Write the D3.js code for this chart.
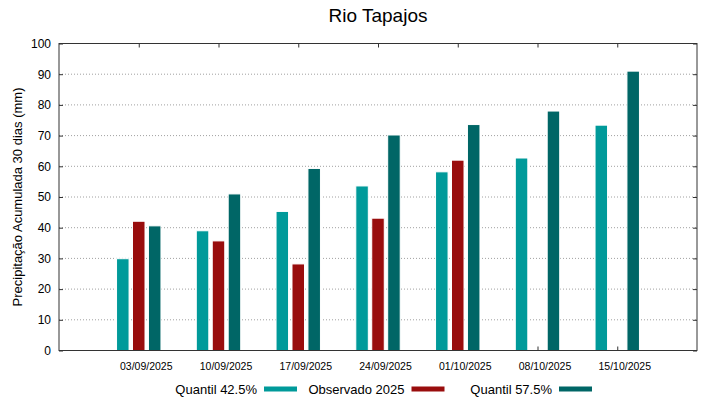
<!DOCTYPE html>
<html>
<head>
<meta charset="utf-8">
<script src="https://cdn.jsdelivr.net/npm/d3@7"></script>
<style>
  body { margin: 0; background: #fff; }
  text { font-family: 'Liberation Sans', Arial, sans-serif; }
</style>
</head>
<body>
<div id="chart"></div>
<script>
const dates = ['03/09/2025', '10/09/2025', '17/09/2025', '24/09/2025', '01/10/2025', '08/10/2025', '15/10/2025'];
const quantil425 = [29.9, 39.0, 45.3, 53.6, 58.2, 62.7, 73.4];
const observado = [42.1, 35.7, 28.2, 43.1, 62.0, null, null];
const quantil575 = [40.6, 51.0, 59.3, 70.2, 73.6, 78.0, 91.0];
const yTicks = [0, 10, 20, 30, 40, 50, 60, 70, 80, 90, 100];

const series = [
  { label: 'Quantil 42.5%', color: '#009a9a', values: quantil425, offset: -0.2 },
  { label: 'Observado 2025', color: '#990d0d', values: observado, offset: 0 },
  { label: 'Quantil 57.5%', color: '#006666', values: quantil575, offset: 0.2 },
];

const width = 719;
const height = 399;
const plot = { left: 59, right: 697, top: 43.5, bottom: 350.5 };

const svg = d3.select('#chart').append('svg').attr('width', width).attr('height', height);

const x = d3.scaleLinear().domain([-1, 7]).range([plot.left, plot.right]);
const y = d3.scaleLinear().domain([0, 100]).range([plot.bottom, plot.top]);
const barWidth = x(0.157) - x(0);

// grid
svg.append('g')
  .selectAll('line')
  .data(yTicks.filter((t) => t > 0 && t < 100))
  .join('line')
  .attr('x1', plot.left)
  .attr('x2', plot.right)
  .attr('y1', (d) => y(d))
  .attr('y2', (d) => y(d))
  .attr('stroke', '#a0a0a0')
  .attr('stroke-width', 1)
  .attr('stroke-dasharray', '1,2');

// axes (ticks point inward like gnuplot)
const styleAxis = (g) => {
  g.select('.domain').remove();
  g.selectAll('.tick line').attr('stroke', '#333');
  g.selectAll('.tick text').attr('fill', '#000').style('font-family', "'Liberation Sans', Arial, sans-serif");
};

svg.append('g')
  .attr('transform', `translate(${plot.left},0)`)
  .call(d3.axisLeft(y).tickValues(yTicks).tickSizeInner(-4).tickSizeOuter(0).tickPadding(8))
  .call(styleAxis)
  .selectAll('.tick text')
  .style('font-size', '12px');

svg.append('g')
  .attr('transform', `translate(${plot.right},0)`)
  .call(d3.axisRight(y).tickValues(yTicks).tickSizeInner(-4).tickSizeOuter(0).tickFormat(''))
  .call(styleAxis);

svg.append('g')
  .attr('transform', `translate(0,${plot.top})`)
  .call(d3.axisTop(x).tickValues(d3.range(dates.length)).tickSizeInner(-4).tickSizeOuter(0).tickFormat(''))
  .call(styleAxis);

svg.append('g')
  .attr('transform', `translate(0,${plot.bottom})`)
  .call(
    d3.axisBottom(x)
      .tickValues(d3.range(dates.length))
      .tickSizeInner(-4)
      .tickSizeOuter(0)
      .tickPadding(12)
      .tickFormat((i) => dates[i]),
  )
  .call(styleAxis)
  .selectAll('.tick text')
  .attr('dx', 7)
  .style('font-size', '10.5px');

// bars
series.forEach((s) => {
  svg.append('g')
    .selectAll('rect')
    .data(s.values.map((v, i) => ({ v, i })).filter((d) => d.v != null))
    .join('rect')
    .attr('x', (d) => x(d.i + s.offset) - barWidth / 2)
    .attr('width', barWidth)
    .attr('y', (d) => y(d.v))
    .attr('height', (d) => y(0) - y(d.v))
    .attr('fill', s.color)
    .attr('stroke', '#fff')
    .attr('stroke-width', 1);
});

// border
svg.append('rect')
  .attr('x', plot.left)
  .attr('y', plot.top)
  .attr('width', plot.right - plot.left)
  .attr('height', plot.bottom - plot.top)
  .attr('fill', 'none')
  .attr('stroke', '#333')
  .attr('stroke-width', 1);

// title
svg.append('text')
  .attr('x', (plot.left + plot.right) / 2)
  .attr('y', 22)
  .attr('text-anchor', 'middle')
  .style('font-size', '19px')
  .text('Rio Tapajos');

// y label
svg.append('text')
  .attr('transform', `translate(22,${(plot.top + plot.bottom) / 2}) rotate(-90)`)
  .attr('text-anchor', 'middle')
  .style('font-size', '13px')
  .text('Precipitação Acumulada 30 dias (mm)');

// legend
const legend = svg.append('g').attr('transform', 'translate(0,389)');
series.forEach((s, i) => {
  const sx = 264 + i * 147.5;
  legend.append('text')
    .attr('x', sx - 7)
    .attr('y', 4.5)
    .attr('text-anchor', 'end')
    .style('font-size', '13px')
    .text(s.label);
  legend.append('rect')
    .attr('x', sx)
    .attr('y', -2.5)
    .attr('width', 33)
    .attr('height', 5)
    .attr('fill', s.color);
});
</script>
</body>
</html>
